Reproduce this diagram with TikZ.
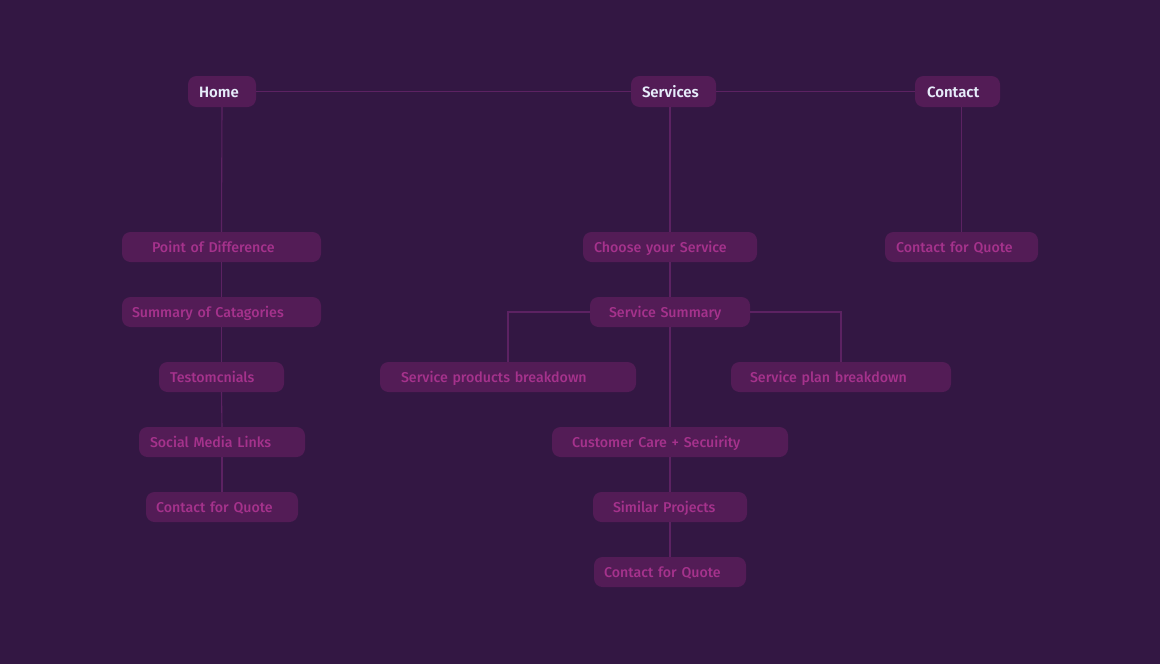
\documentclass[tikz,border=0pt]{standalone}
\usepackage{fontspec}
\setmainfont{Fira Sans}[UprightFont={* Medium},BoldFont={* SemiBold}]
\definecolor{bgc}{HTML}{331743}
\definecolor{boxc}{HTML}{531C56}
\definecolor{linec}{HTML}{5C2262}
\definecolor{pinkc}{HTML}{A5328C}
\definecolor{headc}{HTML}{E6ECFA}
\tikzset{
  pbox/.style={fill=boxc, rounded corners=8.5pt, minimum height=30pt, inner ysep=0pt,
    text height=12pt, text depth=1pt,
    align=left, text=pinkc, font=\fontsize{14.2}{16}\selectfont},
  hbox/.style={pbox, minimum height=31pt, text=headc, font=\fontsize{15}{17}\selectfont\bfseries},
  conn/.style={draw=linec, line width=1.1pt}
}
\begin{document}
\begin{tikzpicture}[x=1pt,y=-1pt]
\fill[bgc] (0,0) rectangle (1160,664);
\useasboundingbox (0,0) rectangle (1160,664);
% headers
\node[hbox, text width=46pt, inner xsep=11pt] (home) at (222,91.5) {Home};
\node[hbox, text width=63pt, inner xsep=11pt] (sv) at (673.5,91.5) {Services};
\node[hbox, text width=61pt, inner xsep=12pt] (ct) at (957.5,91.5) {Contact};
% left column
\node[pbox, text width=139pt, inner xsep=30pt] (pod) at (221.5,247) {Point of Difference};
\node[pbox, text width=179pt, inner xsep=10pt] (soc) at (221.5,312) {Summary of Catagories};
\node[pbox, text width=103pt, inner xsep=11pt] (tes) at (221.5,377) {Testomcnials};
\node[pbox, text width=144pt, inner xsep=11pt] (sml) at (222,442) {Social Media Links};
\node[pbox, text width=132pt, inner xsep=10pt] (cql) at (222,507) {Contact for Quote};
% services column
\node[pbox, text width=152pt, inner xsep=11pt] (cys) at (670,247) {Choose your Service};
\node[pbox, text width=122pt, inner xsep=19pt] (ss) at (670,312) {Service Summary};
\node[pbox, text width=214pt, inner xsep=21pt] (spb) at (508,377) {Service products breakdown};
\node[pbox, text width=182pt, inner xsep=19pt] (spl) at (841,377) {Service plan breakdown};
\node[pbox, text width=196pt, inner xsep=20pt] (ccs) at (670,442) {Customer Care + Secuirity};
\node[pbox, text width=114pt, inner xsep=20pt] (sp) at (670,507) {Similar Projects};
\node[pbox, text width=132pt, inner xsep=10pt] (cqm) at (670,572) {Contact for Quote};
% contact column
\node[pbox, text width=131pt, inner xsep=11pt] (cqr) at (961.5,247) {Contact for Quote};
% connectors
\draw[conn] (home.east) -- (sv.west);
\draw[conn] (sv.east) -- (ct.west);
\draw[conn] (home.south) -- (pod.north);
\draw[conn] (pod.south) -- (soc.north);
\draw[conn] (soc.south) -- (tes.north);
\draw[conn] (tes.south) -- (sml.north);
\draw[conn] (sml.south) -- (cql.north);
\draw[conn] (cys.north |- sv.south) -- (cys.north);
\draw[conn] (cys.south) -- (ss.north);
\draw[conn] (ss.south) -- (ccs.north);
\draw[conn] (ccs.south) -- (sp.north);
\draw[conn] (sp.south) -- (cqm.north);
\draw[conn] (ss.west) -| (spb.north);
\draw[conn] (ss.east) -| (spl.north);
\draw[conn] (cqr.north |- ct.south) -- (cqr.north);
\end{tikzpicture}
\end{document}
